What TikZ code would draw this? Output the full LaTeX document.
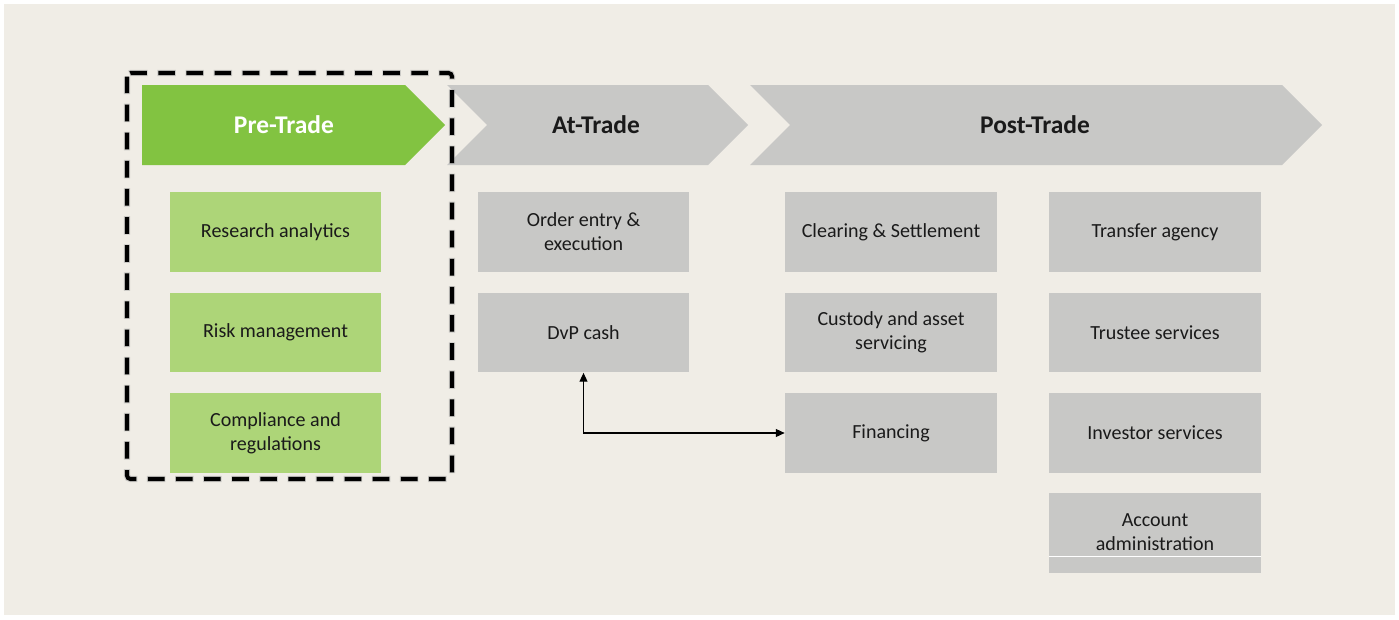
\documentclass[tikz,border=0pt]{standalone}
\usepackage{fontspec}
\setmainfont{Carlito}
\usetikzlibrary{arrows.meta}

\definecolor{fond}{RGB}{240,237,230}
\definecolor{vert}{RGB}{130,195,65}
\definecolor{vertclair}{RGB}{173,213,120}
\definecolor{gris}{RGB}{200,200,198}
\definecolor{texte}{RGB}{26,26,26}

\tikzset{
  boite/.style={fill=gris, minimum width=4.24cm, minimum height=1.6cm, inner sep=0pt,
    align=center, text=texte, font=\fontsize{11.4}{13.6}\selectfont},
  boiteverte/.style={boite, fill=vertclair},
  entete/.style={text=texte, font=\fontsize{14.5}{17}\selectfont\bfseries},
  fleche/.style={{Triangle[length=5pt,width=4.5pt]}-{Triangle[length=5pt,width=4.5pt]}, line width=0.6pt},
}

\begin{document}
\begin{tikzpicture}[x=0.02cm, y=-0.02cm]
\useasboundingbox (0,0) rectangle (1399,619);

%fond
\fill[fond] (4,4) rectangle (1395,615);

%chevrons
\fill[vert] (142,85) -- (405,85) -- (445,125) -- (405,165) -- (142,165) -- cycle;
\fill[gris] (447,85) -- (708,85) -- (748,125) -- (708,165) -- (447,165) -- (487,125) -- cycle;
\fill[gris] (750,85) -- (1282,85) -- (1322,125) -- (1282,165) -- (750,165) -- (790,125) -- cycle;
\node[entete, text=white] (pretrade) at (284,125) {Pre-Trade};
\node[entete] (attrade) at (596,125) {At-Trade};
\node[entete] (posttrade) at (1035,125) {Post-Trade};

%pre-trade
\node[boiteverte] (research) at (275.5,232) {Research analytics};
\node[boiteverte] (risk) at (275.5,332.5) {Risk management};
\node[boiteverte] (compliance) at (275.5,433) {Compliance and\\regulations};

%at-trade
\node[boite] (order) at (583.5,232) {Order entry \&\\execution};
\node[boite] (dvp) at (583.5,332.5) {DvP cash};

%post-trade
\node[boite] (clearing) at (891,232) {Clearing \& Settlement};
\node[boite] (custody) at (891,332.5) {Custody and asset\\servicing};
\node[boite] (financing) at (891,433) {Financing};
\node[boite] (transfer) at (1155,232) {Transfer agency};
\node[boite] (trustee) at (1155,332.5) {Trustee services};
\node[boite] (investor) at (1155,433) {Investor services};
\node[boite] (account) at (1155,532.5) {Account\\administration};
\draw[white, line width=0.7pt] ([yshift=0.32cm]account.south west) -- ([yshift=0.32cm]account.south east);

%lien dvp - financing
\draw[fleche] (dvp.south) |- (financing.west);

%cadre pointille
\draw[black!35, line width=3.6pt, opacity=0.5, rounded corners=2pt,
  dash pattern=on 10.5pt off 5.5pt, dash phase=0.5pt] (127,73) rectangle (452,479);
\draw[black, line width=2.3pt, rounded corners=2pt,
  dash pattern=on 9.5pt off 6.5pt] (127,73) rectangle (452,479);

\end{tikzpicture}
\end{document}
